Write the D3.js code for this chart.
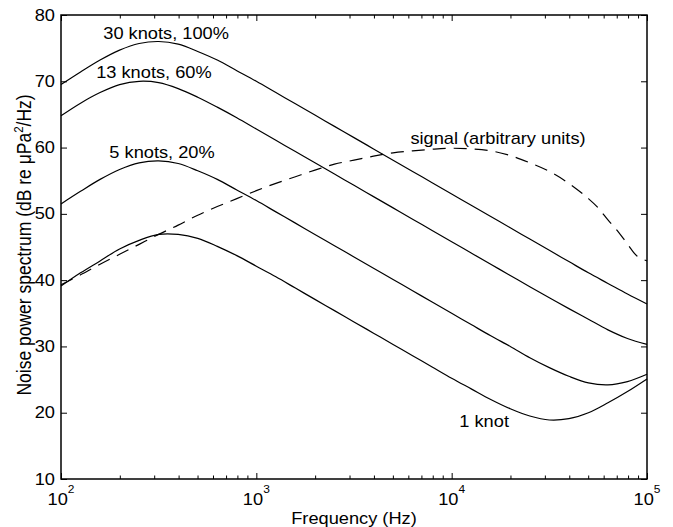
<!DOCTYPE html>
<html>
<head>
<meta charset="utf-8">
<script src="https://cdn.jsdelivr.net/npm/d3@7"></script>
<style>
  body { margin: 0; background: #fff; }
  text { font-family: "Liberation Sans", Arial, Helvetica, sans-serif; fill: #000; }
</style>
</head>
<body>
<svg id="chart" width="673" height="527"></svg>
<script>
// Frequency grid (Hz) shared by the ambient-noise curves
const freqHz = [100, 125.9, 158.5, 199.5, 251.2, 316.2, 398.1, 501.2, 631, 794.3,
  1000, 1259, 1585, 1995, 2512, 3162, 3981, 5012, 6310, 7943,
  10000, 12590, 15850, 19950, 25120, 31620, 39810, 50120, 63100, 79430, 100000];

// Noise power spectrum levels, dB re uPa^2/Hz
const noise30kn = [69.5, 71.4, 73.2, 74.7, 75.7, 76.0, 75.6, 74.5, 73.2, 71.6,
  70.0, 68.3, 66.6, 64.9, 63.2, 61.5, 59.8, 58.1, 56.4, 54.7,
  53.0, 51.3, 49.6, 47.9, 46.2, 44.5, 42.8, 41.1, 39.5, 37.9, 36.4];
const noise13kn = [64.8, 66.7, 68.3, 69.5, 70.0, 69.8, 68.9, 67.6, 66.1, 64.5,
  62.8, 61.1, 59.4, 57.7, 56.0, 54.3, 52.6, 50.9, 49.2, 47.5,
  45.8, 44.1, 42.4, 40.7, 39.0, 37.35, 35.7, 34.1, 32.5, 31.2, 30.3];
const noise5kn = [51.5, 53.4, 55.2, 56.7, 57.7, 58.0, 57.6, 56.5, 55.2, 53.6,
  52.0, 50.3, 48.6, 46.9, 45.2, 43.5, 41.8, 40.1, 38.4, 36.7,
  35.0, 33.3, 31.6, 30.0, 28.3, 26.8, 25.5, 24.5, 24.2, 24.7, 25.8];
const noise1kn = [39.1, 41.1, 42.9, 44.7, 46.0, 46.9, 46.9, 46.3, 45.1, 43.7,
  42.1, 40.5, 38.8, 37.1, 35.4, 33.7, 32.0, 30.3, 28.6, 26.9,
  25.2, 23.6, 22.0, 20.6, 19.5, 18.9, 19.1, 20.0, 21.5, 23.2, 25.1];

// Signal spectrum (arbitrary units), dashed
const signalFreqHz = [100, 125.9, 158.5, 199.5, 251.2, 316.2, 398.1, 501.2, 631, 794.3,
  1000, 1259, 1585, 1995, 2512, 3162, 3981, 5012, 6310, 7943,
  10000, 12590, 15850, 19950, 25120, 31620, 39810, 50120, 56230, 63100,
  70790, 79430, 89130, 100000];
const signalLevel = [39.3, 40.8, 42.4, 43.9, 45.4, 46.9, 48.3, 49.8, 51.1, 52.3,
  53.5, 54.6, 55.6, 56.6, 57.5, 58.1, 58.7, 59.2, 59.5, 59.75,
  59.9, 59.8, 59.5, 58.8, 57.7, 56.4, 54.6, 52.3, 50.9, 49.1,
  47.4, 45.45, 43.6, 42.9];

// Axis ticks
const yTicks = [10, 20, 30, 40, 50, 60, 70, 80];
const xMajorTicks = [100, 1000, 10000, 100000];
const xTickExponents = ["2", "3", "4", "5"];
const xMinorTicks = [200, 300, 400, 500, 600, 700, 800, 900,
  2000, 3000, 4000, 5000, 6000, 7000, 8000, 9000,
  20000, 30000, 40000, 50000, 60000, 70000, 80000, 90000];

// Curve annotations, anchored at (frequency, level)
const labelText  = ["30 knots, 100%", "13 knots, 60%", "5 knots, 20%", "signal (arbitrary units)", "1 knot"];
const labelFreq  = [345, 299, 329, 17260, 14660];
const labelLevel = [76.4, 70.45, 58.5, 60.6, 17.9];

const svg = d3.select("#chart");
const plotL = 61, plotR = 647, plotT = 15, plotB = 479;
const FS = 16, SX = 1.14;

const x = d3.scaleLog().domain([100, 100000]).range([plotL, plotR]);
const y = d3.scaleLinear().domain([10, 80]).range([plotB, plotT]);

// text helper: glyphs are slightly wide relative to their height
function label(px, py, anchor, size, rot) {
  const g = svg.append("g")
    .attr("transform", `translate(${px},${py}) scale(${SX},1)` + (rot ? ` rotate(${rot})` : ""));
  return g.append("text").attr("text-anchor", anchor).style("font-size", size + "px");
}

// curves
const line = d3.line().curve(d3.curveCatmullRom.alpha(0.5));
const noiseSeries = [noise30kn, noise13kn, noise5kn, noise1kn];
noiseSeries.forEach(vals => {
  svg.append("path")
    .attr("d", line(freqHz.map((f, i) => [x(f), y(vals[i])])))
    .attr("fill", "none").attr("stroke", "#000").attr("stroke-width", 1.2);
});
svg.append("path")
  .attr("d", line(signalFreqHz.map((f, i) => [x(f), y(signalLevel[i])])))
  .attr("fill", "none").attr("stroke", "#000").attr("stroke-width", 1.2)
  .attr("stroke-dasharray", "13,8");

// axes: inward ticks on all four sides
function tickAxis(gen, tx, ty) {
  const g = svg.append("g").attr("transform", `translate(${tx},${ty})`).call(gen);
  g.select(".domain").remove();
  g.selectAll(".tick line").attr("stroke", "#000").attr("stroke-width", 1);
  g.selectAll(".tick text").remove();
}
tickAxis(d3.axisBottom(x).tickValues(xMajorTicks).tickSize(-6), 0, plotB);
tickAxis(d3.axisBottom(x).tickValues(xMinorTicks).tickSize(-3.5), 0, plotB);
tickAxis(d3.axisTop(x).tickValues(xMajorTicks).tickSize(-6), 0, plotT);
tickAxis(d3.axisTop(x).tickValues(xMinorTicks).tickSize(-3.5), 0, plotT);
tickAxis(d3.axisLeft(y).tickValues(yTicks).tickSize(-6), plotL, 0);
tickAxis(d3.axisRight(y).tickValues(yTicks).tickSize(-6), plotR, 0);

svg.append("rect")
  .attr("x", plotL).attr("y", plotT).attr("width", plotR - plotL).attr("height", plotB - plotT)
  .attr("fill", "none").attr("stroke", "#000").attr("stroke-width", 1.5);

// tick labels
yTicks.forEach(v => {
  label(plotL - 6, y(v) + 5.5, "end", FS).text(v);
});
xMajorTicks.forEach((v, i) => {
  const t = label(x(v), plotB + 26, "middle", FS);
  t.append("tspan").text("10");
  t.append("tspan").attr("dy", -12).style("font-size", "10.5px").text(xTickExponents[i]);
});

// axis titles
label((plotL + plotR) / 2, 524, "middle", FS).text("Frequency (Hz)");
const yl = label(31, (plotT + plotB) / 2 - 2, "middle", 17.5, -90);
yl.append("tspan").text("Noise power spectrum (dB re \u03BCPa");
yl.append("tspan").attr("dy", -7).style("font-size", "11.5px").text("2");
yl.append("tspan").attr("dy", 7).text("/Hz)");

// curve annotations
labelText.forEach((s, i) => {
  label(x(labelFreq[i]), y(labelLevel[i]), "middle", FS).text(s);
});
</script>
</body>
</html>
